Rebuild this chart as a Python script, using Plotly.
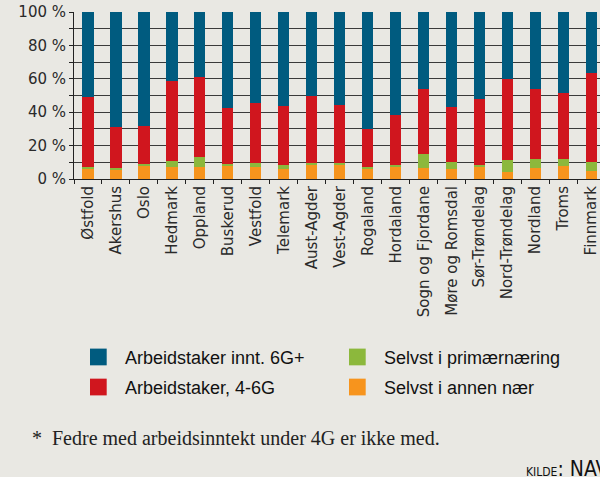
import plotly.graph_objects as go

counties = ["Østfold", "Akershus", "Oslo", "Hedmark", "Oppland", "Buskerud", "Vestfold",
            "Telemark", "Aust-Agder", "Vest-Agder", "Rogaland", "Hordaland", "Sogn og Fjordane",
            "Møre og Romsdal", "Sør-Trøndelag", "Nord-Trøndelag", "Nordland", "Troms", "Finnmark"]

# shares in percent
annen_naer = [5.8, 5.8, 8.0, 7.4, 7.2, 7.8, 7.0, 6.2, 8.4, 8.4, 5.8, 7.2, 6.8, 6.2, 7.0, 4.0, 6.6, 7.6, 5.0]
primaer = [1.4, 1.0, 1.0, 3.4, 6.0, 1.0, 2.4, 2.0, 1.0, 1.2, 1.4, 1.2, 8.0, 4.2, 1.2, 7.4, 5.4, 4.2, 5.2]
arb_4_6g = [42.1, 24.3, 22.5, 48.1, 47.7, 33.5, 36.1, 35.7, 40.5, 34.5, 22.5, 29.7, 39.3, 32.9, 39.5, 48.7, 42.1, 39.5, 53.3]
arb_6g = [round(100 - a - b - c, 1) for a, b, c in zip(annen_naer, primaer, arb_4_6g)]

series = [
    ("Selvst i annen nær", annen_naer, "#f7941d"),
    ("Selvst i primærnæring", primaer, "#8cb83c"),
    ("Arbeidstaker, 4-6G", arb_4_6g, "#d0161e"),
    ("Arbeidstaker innt. 6G+", arb_6g, "#005b7f"),
]

BG = "#e9e8e3"
W, H = 600, 477
L, T = 74, 12
PW, PH = 526, 166.7
B = H - T - PH

fig = go.Figure()
for name, vals, col in series:
    fig.add_trace(go.Bar(x=counties, y=vals, name=name, marker_color=col,
                         marker_line_width=0, width=0.4, showlegend=False))

ticks = list(range(0, 101, 10))
fig.update_layout(
    barmode="stack",
    width=W, height=H,
    margin=dict(l=L, r=0, t=T, b=B, autoexpand=False),
    paper_bgcolor=BG, plot_bgcolor=BG,
    font=dict(family="DejaVu Sans", color="#2a2a2a", size=15),
    xaxis=dict(range=[-0.5, 18.5 - 5.5 / 28], tickangle=-90, ticks="outside", tickson="boundaries",
               ticklen=4, tickcolor="#222", showline=True, linecolor="#222", linewidth=1,
               showgrid=False, tickfont=dict(size=15, family="DejaVu Sans", color="#2a2a2a")),
    yaxis=dict(range=[0, 100], tickvals=ticks,
               ticktext=[f"{v} %" if v % 20 == 0 else "" for v in ticks],
               ticks="outside", ticklen=4, tickcolor="#222", showline=True, linecolor="#222",
               linewidth=1, showgrid=True, gridcolor="#3a3a3a", gridwidth=1, zeroline=False,
               tickfont=dict(size=15, family="DejaVu Sans", color="#2a2a2a")),
)

def px(x):
    return (x - L) / PW

def py(y):
    return (T + PH - y) / PH

legend_items = [
    ("Arbeidstaker innt. 6G+", "#005b7f", 90, 348),
    ("Arbeidstaker, 4-6G", "#d0161e", 90, 378),
    ("Selvst i primærnæring", "#8cb83c", 349, 348),
    ("Selvst i annen nær", "#f7941d", 349, 378),
]
for label, col, x0, y0 in legend_items:
    fig.add_shape(type="rect", xref="paper", yref="paper",
                  x0=px(x0), x1=px(x0 + 16.7), y0=py(y0), y1=py(y0 + 16.7),
                  fillcolor=col, line_width=0)
    fig.add_annotation(xref="paper", yref="paper", x=px(x0 + 33), y=py(y0 + 9.5),
                       text=label, showarrow=False, xanchor="left", yanchor="middle",
                       font=dict(family="Liberation Sans", size=18, color="#111"))

fig.add_annotation(xref="paper", yref="paper", x=px(30), y=py(437),
                   text="*  Fedre med arbeidsinntekt under 4G er ikke med.", showarrow=False,
                   xanchor="left", yanchor="middle",
                   font=dict(family="Liberation Serif", size=20, color="#222"))
fig.add_annotation(xref="paper", yref="paper", x=px(524), y=py(482),
                   text='KILDE<span style="font-size:21px">: NAV</span>', showarrow=False,
                   xanchor="left", yanchor="bottom",
                   font=dict(family="DejaVu Sans Condensed, Liberation Sans Narrow, Liberation Sans", size=12, color="#111"))

fig.write_html("out.html", config={"displayModeBar": False},
               post_script="document.body.style.margin='0';document.body.style.background='%s';" % BG)
